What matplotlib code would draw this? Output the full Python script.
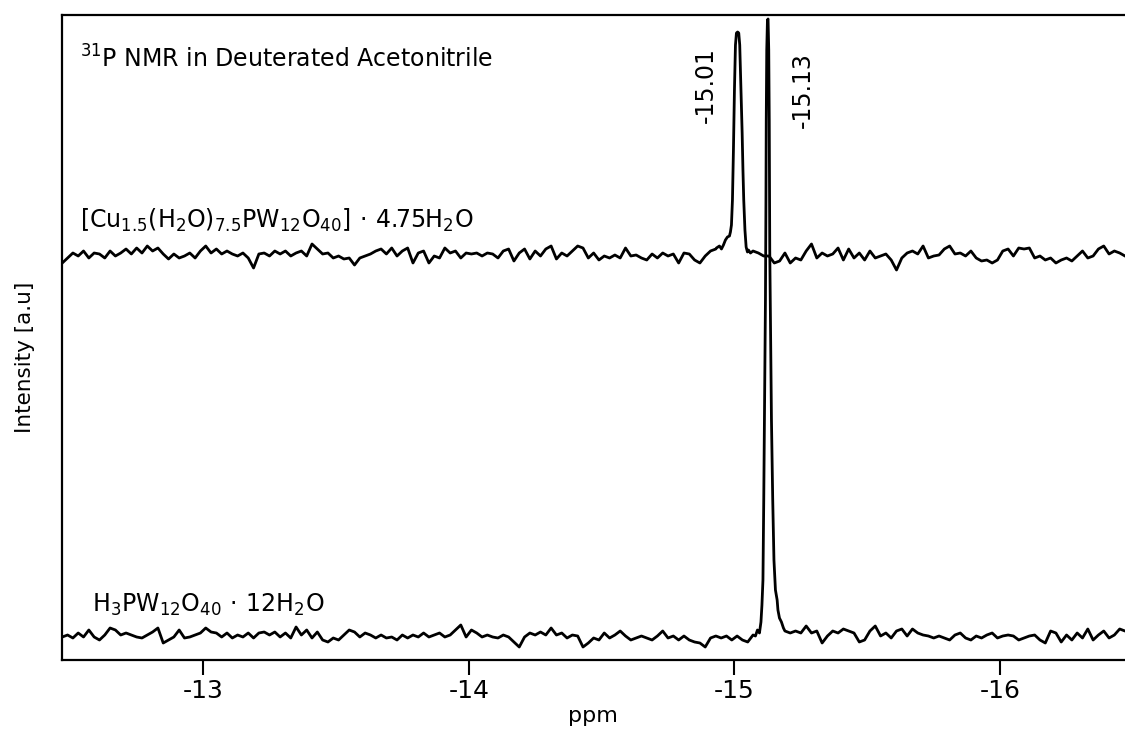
import numpy as np
import matplotlib
matplotlib.use("Agg")
import matplotlib.pyplot as plt

plt.rcParams['font.family'] = ['DejaVu Sans']
plt.rcParams['mathtext.default'] = 'regular'
plt.rcParams['axes.unicode_minus'] = False

# ---------------- data ----------------
ppm_start, ppm_end = -12.47, -16.47

# Cu salt trace: baseline level and noise offsets (arbitrary units)
cu_baseline = 404
cu_noise = [
    -7, -2, 3, 0, 5, -2, 3, 2, -2, 5, 0, 3, 7, 2, 8, 3, 10, 5, 8, 2,
    -3, 2, -2, 0, 3, -2, 5, 10, 3, 7, 2, 5, 2, 0, 3, -2, -12, 2, 3, 0,
    5, 2, 5, 0, 3, 5, 0, 12, 7, 2, 3, -2, 0, -3, -2, -9, -2, 0, 2, 5,
    7, 2, 8, 0, 5, 8, -7, 3, 5, -7, 0, -2, 8, 3, 5, -2, 3, 2, 3, 0,
    3, 2, -2, 5, 7, -5, 3, 7, -3, 5, 0, 7, 10, -3, 3, 0, 5, 10, 8, -2,
    3, -4, 0, -2, 1, -2, 8, 0, 1, -2, -4, 2, -2, 3, 0, 2, -7, 3, 2, -4,
    -7, 0, 5, 7, 6, 6, 6, 6, 6, 6, 5, 3, 0, 0, -7, -5, 3, -7, -2, -4,
    5, 12, -2, 3, 0, 2, 8, -4, 7, -2, 3, -4, 5, -2, 0, 2, -4, -14, -2, 3,
    5, 2, 10, -2, 0, 1, 7, 10, 2, 3, 0, 5, -2, -5, -4, -7, -4, 5, 7, 0,
    8, 7, 8, -2, 0, -4, -2, -7, -4, -2, -5, 0, 5, -2, 0, 7, 10, 2, 5, 3,
    0,
]
cu_peak_ppm = [-14.9323, -14.9435, -14.9511, -14.9586, -14.9661, -14.9737, -14.9812,
               -14.9849, -14.9887, -14.9925, -14.9962, -15.0000, -15.0038, -15.0075,
               -15.0120, -15.0162, -15.0199, -15.0245, -15.0290, -15.0320, -15.0350,
               -15.0395, -15.0440, -15.0489, -15.0527, -15.0602]
cu_peak_int = [412, 414, 411, 415, 420, 423, 424, 428, 435, 460, 510, 570, 615, 627,
               628, 627, 615, 570, 527, 490, 460, 430, 413, 408, 410, 407]

# H3PW12O40 trace
hpw_baseline = 23
hpw_noise = [
    0, 2, -1, 4, 0, 7, 0, -3, 2, 9, 7, 2, 4, 2, 0, -1, 2, 5, 9, -6,
    -3, 0, 7, -1, 0, 2, 4, 9, 5, 4, 0, 4, -1, 2, 0, 4, -1, 4, 5, 2,
    5, 0, 4, -1, 10, 2, 7, -1, 5, -3, -5, -1, -3, 2, 7, 5, 0, 4, 2, -1,
    2, -1, 0, -3, 2, -1, 2, 0, 4, 0, 2, 4, 0, 2, 7, 12, 0, 7, 4, 0,
    2, 0, -1, 2, 0, -5, -10, 0, 4, 2, 5, 2, 9, 2, 4, -1, 2, 1, -10, -6,
    -1, -3, 4, -1, 2, 6, 1, -3, -1, 1, -1, -3, 1, 6, -1, 1, -3, 1, -3, -5,
    -6, -10, -1, 1, -1, 1, -3, 1, -3, -5, 2, 6, 6, 6, 6, 6, 6, 4, 6, 4,
    11, 4, 6, -6, 1, 6, 4, 8, 6, 4, -5, -3, 6, 11, 1, 4, -1, 6, 8, 1,
    8, 4, 2, 1, -1, 1, -1, -3, 2, 4, -1, -3, 1, -1, 2, 4, -1, 1, 2, 1,
    -3, -1, 1, 2, -3, -6, 6, 4, -5, 2, -3, 4, -1, 8, -3, 2, 6, -1, 2, 8,
    6,
]
hpw_peak_ppm = [-15.0790, -15.0866, -15.0941, -15.0998, -15.1035, -15.1073, -15.1103,
                -15.1129, -15.1167, -15.1186, -15.1197, -15.1216, -15.1242, -15.1265,
                -15.1291, -15.1310, -15.1329, -15.1347, -15.1393, -15.1441, -15.1487,
                -15.1543, -15.1607, -15.1637, -15.1694, -15.1769, -15.1844]
hpw_peak_int = [24, 30, 27, 38, 55, 80, 160, 240, 360, 460, 540, 610, 640, 641,
                610, 540, 410, 360, 240, 160, 100, 70, 60, 50, 42, 38, 32]

tick_values = [-13, -14, -15, -16]
tick_labels = ['-13', '-14', '-15', '-16']


def build(noise, base, pk_ppm, pk_int):
    grid = np.linspace(ppm_start, ppm_end, len(noise))
    vals = base + np.asarray(noise, dtype=float)
    pk_ppm = np.asarray(pk_ppm)
    pk_int = np.asarray(pk_int, dtype=float)
    keep = (grid > pk_ppm.max()) | (grid < pk_ppm.min())
    x = np.concatenate([grid[keep], pk_ppm])
    y = np.concatenate([vals[keep], pk_int])
    order = np.argsort(x)
    return x[order], y[order]


W, H = 1125, 729
fig = plt.figure(figsize=(W / 100, H / 100), dpi=100)
ax = fig.add_axes([62 / W, 1 - 660 / H, (W - 62) / W, (660 - 15) / H])

x1, y1 = build(cu_noise, cu_baseline, cu_peak_ppm, cu_peak_int)
x2, y2 = build(hpw_noise, hpw_baseline, hpw_peak_ppm, hpw_peak_int)
ax.plot(x1, y1, color='black', lw=2.0, solid_joinstyle='round')
ax.plot(x2, y2, color='black', lw=2.0, solid_joinstyle='round')

ax.set_xlim(-12.469, -16.47)
ax.set_ylim(0, 645)
ax.set_yticks([])
ax.set_xticks(tick_values)
ax.set_xticklabels(tick_labels)
ax.tick_params(axis='x', direction='out', length=11, width=1.5, pad=3, labelsize=18)
for s in ax.spines.values():
    s.set_linewidth(1.6)
ax.spines['right'].set_visible(False)

fig.text(80 / W, 1 - 68 / H, r'$^{31}$P NMR in Deuterated Acetonitrile', fontsize=17,
         ha='left', va='baseline')
fig.text(80 / W, 1 - 228 / H,
         r'[Cu$_{1.5}$(H$_2$O)$_{7.5}$PW$_{12}$O$_{40}$]$\,\cdot\,$4.75H$_2$O',
         fontsize=17, ha='left', va='baseline')
fig.text(92 / W, 1 - 612 / H, r'H$_3$PW$_{12}$O$_{40}$$\,\cdot\,$12H$_2$O', fontsize=17,
         ha='left', va='baseline')
fig.text(706 / W, 1 - 85 / H, '-15.01', fontsize=17, rotation=90, ha='center', va='center')
fig.text(803 / W, 1 - 90 / H, '-15.13', fontsize=17, rotation=90, ha='center', va='center')
fig.text(25 / W, 1 - 357 / H, 'Intensity [a.u]', fontsize=15.5, rotation=90,
         ha='center', va='center')
fig.text(593 / W, 1 - 716 / H, 'ppm', fontsize=16, ha='center', va='center')

fig.savefig('out.png', dpi=100)
